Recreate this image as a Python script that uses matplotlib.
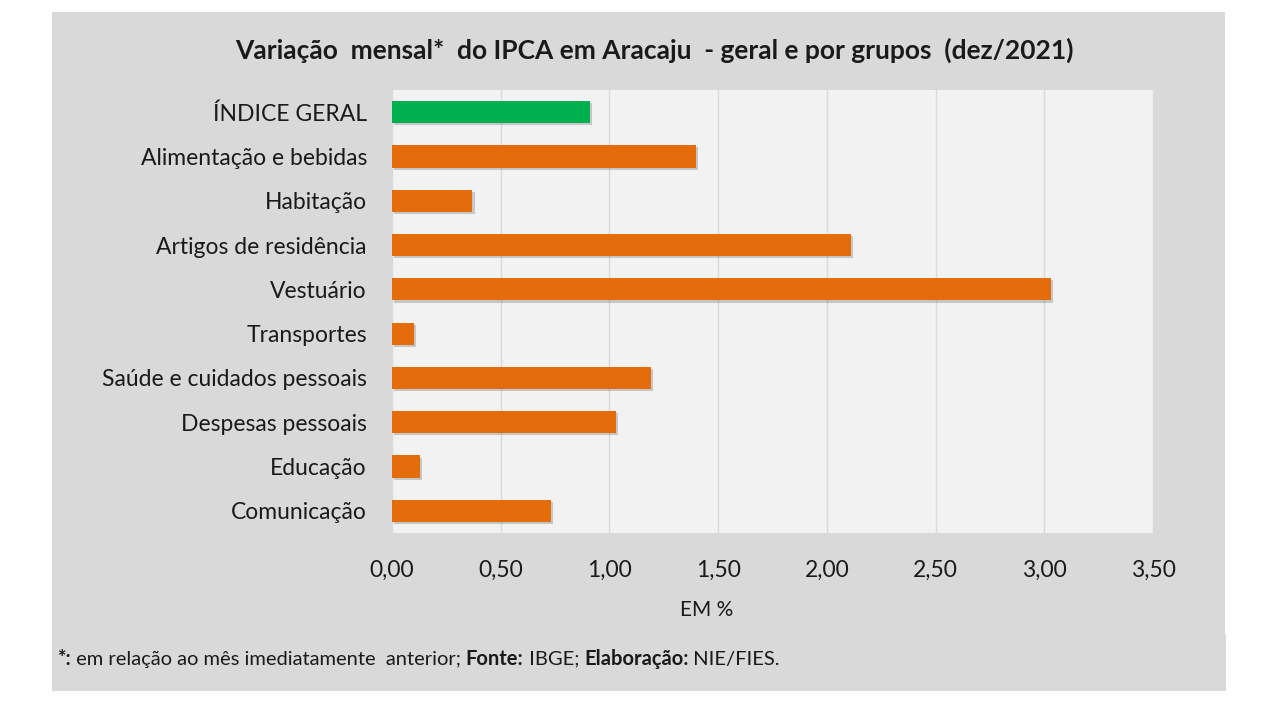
import matplotlib.pyplot as plt
import matplotlib.patheffects as pe
from matplotlib.patches import Rectangle

categorias = ['ÍNDICE GERAL', 'Alimentação e bebidas', 'Habitação',
              'Artigos de residência', 'Vestuário', 'Transportes',
              'Saúde e cuidados pessoais', 'Despesas pessoais',
              'Educação', 'Comunicação']
variacao = [0.91, 1.40, 0.37, 2.11, 3.03, 0.10, 1.19, 1.03, 0.13, 0.73]
cores = ['#00b050'] + ['#e46c0a'] * 9
xticks = [0, 0.5, 1.0, 1.5, 2.0, 2.5, 3.0, 3.5]

plt.rcParams['font.family'] = ['Lato', 'DejaVu Sans']

W, H = 1280, 720
fig = plt.figure(figsize=(12.8, 7.2), dpi=100)
fig.patch.set_facecolor('white')

# fundo cinza do grafico e da nota
fig.patches.append(Rectangle((52 / W, 1 - 636 / H), (1225 - 52) / W, (636 - 12) / H,
                             transform=fig.transFigure, facecolor='#d9d9d9',
                             edgecolor='none', zorder=-2))
fig.patches.append(Rectangle((52 / W, 1 - 691 / H), (1226 - 52) / W, (691 - 634) / H,
                             transform=fig.transFigure, facecolor='#d9d9d9',
                             edgecolor='none', zorder=-2))

ax = fig.add_axes([392 / W, 1 - 533 / H, (1153 - 392) / W, (533 - 90) / H])
ax.set_zorder(1)
ax.set_facecolor('#f2f2f2')
for s in ax.spines.values():
    s.set_visible(False)

pos = list(range(len(categorias)))
bars = ax.barh(pos, variacao, height=0.5, color=cores, zorder=3)
for b in bars:
    b.set_path_effects([pe.SimplePatchShadow(offset=(1.5, -1.5), shadow_rgbFace='black', alpha=0.18),
                        pe.Normal()])

ax.set_ylim(len(categorias) - 0.5, -0.5)
ax.set_xlim(0, 3.5)
ax.set_yticks(pos)
ax.set_yticklabels(categorias, fontsize=16.5, color='#1a1a1a')
ax.set_xticks(xticks)
ax.set_xticklabels([f'{v:.2f}'.replace('.', ',') for v in xticks], fontsize=16.5, color='#1a1a1a')
ax.tick_params(axis='both', length=0)
ax.tick_params(axis='y', pad=18)
ax.tick_params(axis='x', pad=19)
ax.xaxis.grid(True, color='#d9d9d9', linewidth=1.0, zorder=0)
ax.set_axisbelow(True)
ax.set_xlabel('EM %', fontsize=15, color='#1a1a1a')
ax.xaxis.set_label_coords((707 - 392) / (1153 - 392), -(610 - 533) / (533 - 90))
ax.xaxis.label.set_va('center')

fig.text(654 / W, 1 - 50 / H,
         'Variação  mensal*  do IPCA em Aracaju  - geral e por grupos  (dez/2021)',
         ha='center', va='center', fontsize=19, fontweight='bold', color='#1a1a1a')

# nota de rodape com trechos em negrito
partes = [('*:', 'bold'), (' em relação ao mês imediatamente  anterior; ', 'normal'),
          ('Fonte:', 'bold'), (' IBGE; ', 'normal'),
          ('Elaboração:', 'bold'), (' NIE/FIES.', 'normal')]
fig.canvas.draw()
r = fig.canvas.get_renderer()
x = 57
for txt, peso in partes:
    t = fig.text(x / W, 1 - 659 / H, txt, ha='left', va='center', fontsize=14.5,
                 fontweight=peso, color='#1a1a1a')
    x += t.get_window_extent(renderer=r).width

fig.savefig('out.png', dpi=100)
